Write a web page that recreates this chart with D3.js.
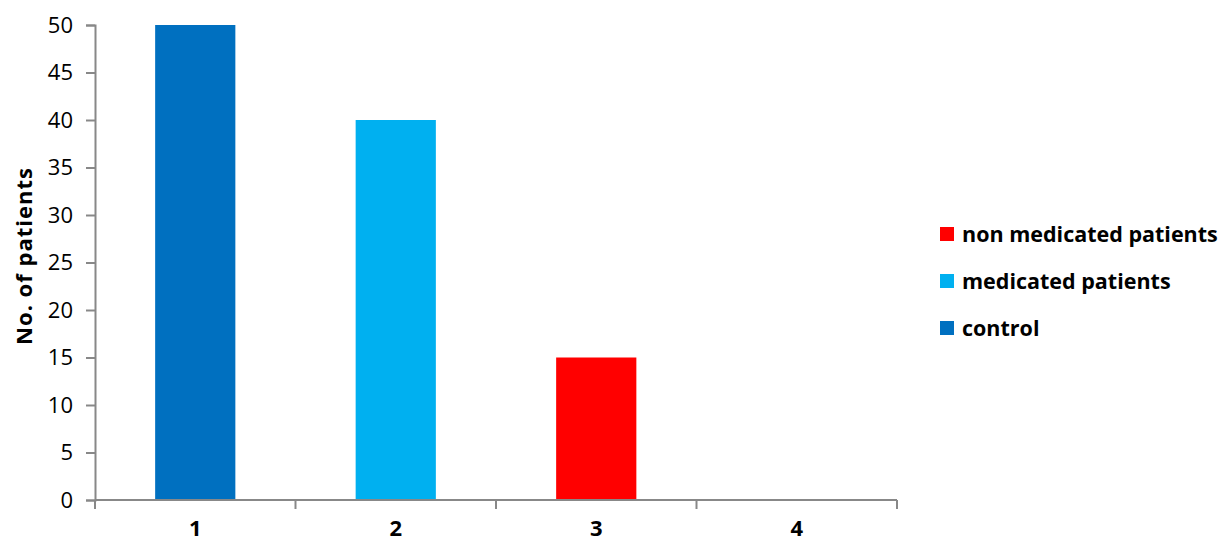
<!DOCTYPE html>
<html>
<head>
<meta charset="utf-8">
<script src="https://cdn.jsdelivr.net/npm/d3@7"></script>
<style>
  html, body { margin: 0; padding: 0; background: #fff; }
  svg { display: block; }
  text { font-family: "Open Sans", "Liberation Sans", sans-serif; fill: #000; }
</style>
</head>
<body>
<svg id="chart" width="1222" height="542"></svg>
<script>
// Patient counts per group
const categories = ["1", "2", "3", "4"];
const values = [50, 40, 15, 0];
const barGroups = ["control", "medicated patients", "non medicated patients", null];
const yTicks = [0, 5, 10, 15, 20, 25, 30, 35, 40, 45, 50];
const legendItems = ["non medicated patients", "medicated patients", "control"];
const groupColors = {
  "control": "#0070C0",
  "medicated patients": "#00B0F0",
  "non medicated patients": "#FF0000"
};

const svg = d3.select("#chart");
const margin = { left: 95, right: 325, top: 25, bottom: 42 };
const W = 1222, H = 542;
const plotL = margin.left, plotR = W - margin.right, plotT = margin.top, plotB = H - margin.bottom;

const y = d3.scaleLinear().domain([0, 50]).range([plotB, plotT]);
const x = d3.scaleBand().domain(categories).range([plotL, plotR])
  .paddingInner(0.6).paddingOuter(0.3);

const axisColor = "#888888";

// Bars
svg.append("g").selectAll("rect")
  .data(values.map((v, i) => ({ cat: categories[i], v, g: barGroups[i] })).filter(d => d.g))
  .join("rect")
  .attr("x", d => x(d.cat))
  .attr("width", x.bandwidth())
  .attr("y", d => y(d.v))
  .attr("height", d => y(0) - y(d.v))
  .attr("fill", d => groupColors[d.g]);

// Y axis
const yAxis = d3.axisLeft(y).tickValues(yTicks).tickSize(9).tickPadding(13);
const gy = svg.append("g").attr("transform", `translate(${plotL},0)`).call(yAxis);
gy.select(".domain").attr("stroke", axisColor).attr("stroke-width", 2);
gy.selectAll(".tick line").attr("stroke", axisColor).attr("stroke-width", 2);
gy.selectAll(".tick text").attr("font-size", 22).attr("font-weight", 500)
  .attr("font-family", "'Open Sans', sans-serif").attr("fill", "#000");

// X axis: baseline with dividing ticks between categories
const step = x.step();
const boundaries = d3.range(categories.length + 1).map(i => plotL + i * step);
svg.append("line")
  .attr("x1", plotL).attr("x2", boundaries[boundaries.length - 1])
  .attr("y1", y(0)).attr("y2", y(0))
  .attr("stroke", axisColor).attr("stroke-width", 2);
svg.append("g").selectAll("line").data(boundaries).join("line")
  .attr("x1", d => d).attr("x2", d => d)
  .attr("y1", y(0)).attr("y2", y(0) + 9)
  .attr("stroke", axisColor).attr("stroke-width", 2);
svg.append("g").selectAll("text").data(categories).join("text")
  .attr("x", d => x(d) + x.bandwidth() / 2)
  .attr("y", 536)
  .attr("text-anchor", "middle")
  .attr("font-size", 22)
  .attr("font-weight", "bold")
  .text(d => d);

// Y axis title
svg.append("text")
  .attr("transform", `translate(32,256) rotate(-90)`)
  .attr("text-anchor", "middle")
  .attr("font-size", 22)
  .attr("font-weight", "bold")
  .attr("letter-spacing", 1)
  .text("No. of patients");

// Legend
const legend = svg.append("g").attr("transform", "translate(940,234)");
const rows = legend.selectAll("g").data(legendItems).join("g")
  .attr("transform", (d, i) => `translate(0,${i * 47})`);
rows.append("rect")
  .attr("x", 0).attr("y", -7).attr("width", 14).attr("height", 14)
  .attr("fill", d => groupColors[d]);
rows.append("text")
  .attr("x", 22).attr("y", 0).attr("dy", "0.35em")
  .attr("font-size", 21.5)
  .attr("font-weight", "bold")
  .text(d => d);
</script>
</body>
</html>
